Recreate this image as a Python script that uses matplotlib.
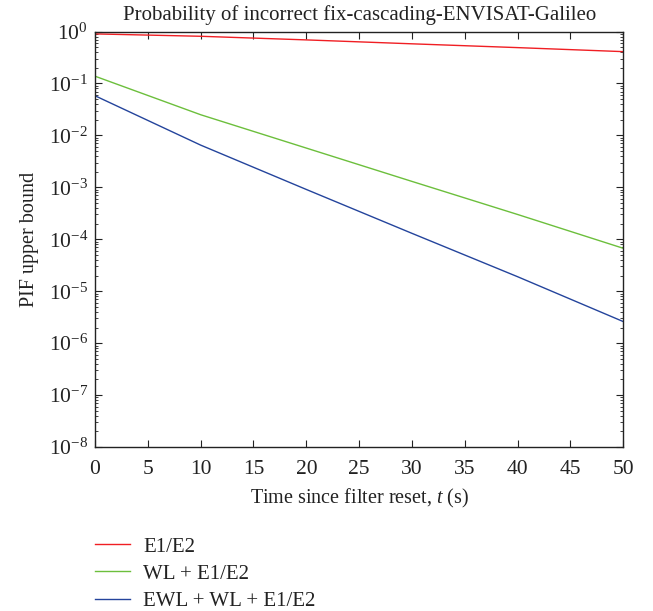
import numpy as np
import matplotlib.pyplot as plt

plt.rcParams['font.family'] = 'Liberation Serif'
plt.rcParams['mathtext.fontset'] = 'custom'
plt.rcParams['mathtext.rm'] = 'Liberation Serif'
plt.rcParams['mathtext.it'] = 'Liberation Serif:italic'

# data
t = [0, 10, 20, 30, 40, 50]
pif_e1e2 = [0.90, 0.81, 0.69, 0.58, 0.49, 0.41]
pif_wl = [0.138, 0.025, 5.7e-3, 1.3e-3, 3.0e-4, 6.7e-5]
pif_ewl = [0.058, 6.5e-3, 9.1e-4, 1.3e-4, 1.9e-5, 2.6e-6]
labels = ['E1/E2', 'WL + E1/E2', 'EWL + WL + E1/E2']
colors = ['#f01e23', '#6cbf3c', '#24449c']

fig = plt.figure(figsize=(6.53, 6.11), dpi=100)
ax = fig.add_axes([0.1455, 0.2684, 0.809, 0.680])

for y, lab, c in zip([pif_e1e2, pif_wl, pif_ewl], labels, colors):
    ax.plot(t, y, color=c, lw=1.0, label=lab)

ax.set_yscale('log')
ax.set_xlim(0, 50)
ax.set_ylim(1e-8, 1)
ax.set_xticks(np.arange(0, 51, 5))
ax.set_yticks([10.0**k for k in range(-8, 1)])
ax.tick_params(which='both', direction='in', top=True, right=True,
               labelsize=15.5, colors='#222222')
ax.tick_params(which='major', length=5, width=0.8)
ax.tick_params(which='minor', length=2.5, width=0.6)
ax.tick_params(axis='x', pad=9)
ax.tick_params(axis='y', pad=5)
for s in ax.spines.values():
    s.set_linewidth(1.0)
    s.set_color('#222222')

ax.set_title('Probability of incorrect fix-cascading-ENVISAT-Galileo',
             fontsize=15, pad=8, color='#222222')
ax.set_xlabel('Time since filter reset, $t$ (s)', fontsize=14.5, labelpad=6, color='#222222')
ax.set_ylabel('PIF upper bound', fontsize=14.5, labelpad=7, color='#222222')

fig.legend(loc='upper left', bbox_to_anchor=(0.1455, 0.121), frameon=False,
           fontsize=15, handlelength=1.7, handletextpad=0.6, labelspacing=0.36,
           borderaxespad=0, borderpad=0, labelcolor='#222222')

fig.savefig('out.png', dpi=100)
